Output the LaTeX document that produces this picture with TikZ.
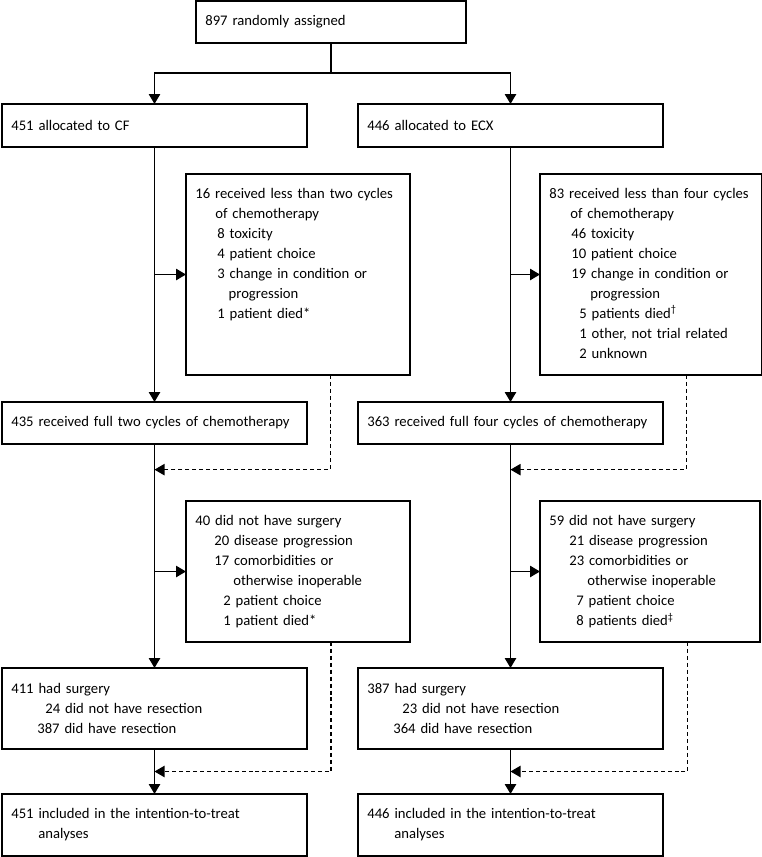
\documentclass[tikz,border=0pt]{standalone}
\usepackage{fontspec}
\setmainfont{Carlito}
\usepackage{tikz}
\usetikzlibrary{arrows.meta,positioning,calc}
\newcommand\Textbox[2]{%
  \parbox[c][#1][t]{\linewidth}{\strut #2}}
\tikzset{
  arr/.style={-{Triangle[length=7.5pt,width=8.5pt]}, line width=1.25pt},
  dasharr/.style={-{Triangle[length=7.5pt,width=8.5pt]}, line width=0.8pt,
    dash pattern=on 3pt off 2.2pt}
}

\begin{document}
\begin{tikzpicture}[x=0.75pt,y=-0.75pt,
    box/.style={draw, rectangle, line width=1.25pt, anchor=north west,
      outer sep=0pt, inner xsep=7pt, inner ysep=0pt, align=left,
      font=\fontsize{11pt}{15pt}\selectfont},
    mainbox/.style={box, text width=214.75pt, minimum height=#1},
    sidebox/.style 2 args={box, text width=#1, minimum height=#2},
    toptext/.style={inner ysep=7.5pt}
  ]
  \useasboundingbox (0,0) rectangle (762,857);

  % Randomisation
  \node[box, text width=188.5pt, minimum height=31.5pt] (rand) at (196,1)
    {897 randomly assigned};

  \node[mainbox=32.25pt] (cf) at (2,104) {451 allocated to CF};
  \node[mainbox=32.25pt] (ecx) at (358,104) {446 allocated to ECX};

  % Chemotherapy
  \node[sidebox={154pt}{150.75pt}, toptext] (cflow) at (186,174) {\Textbox{135.75pt}{%
    \mbox{16 received less than two cycles}\\
    \hspace*{15pt}of chemotherapy\\
    \hspace*{16.5pt}8 toxicity\\
    \hspace*{16.5pt}4 patient choice\\
    \hspace*{16.5pt}3 change in condition or\\
    \hspace*{25pt}progression\\
    \hspace*{16.5pt}1 patient died*}};
  \node[sidebox={152.5pt}{150.75pt}, toptext] (ecxlow) at (540,174) {\Textbox{135.75pt}{%
    \mbox{83 received less than four cycles}\\
    \hspace*{15.75pt}of chemotherapy\\
    \hspace*{16.5pt}46 toxicity\\
    \hspace*{16.5pt}10 patient choice\\
    \hspace*{16.5pt}19 change in condition or\\
    \hspace*{30.75pt}progression\\
    \hspace*{22.5pt}5 patients died\textsuperscript{†}\\
    \hspace*{22.5pt}1 other, not trial related\\
    \hspace*{22.5pt}2 unknown}};

  \node[mainbox=31.5pt] (cffull) at (2,402) {\mbox{435 received full two cycles of chemotherapy}};
  \node[mainbox=31.5pt] (ecxfull) at (358,402) {\mbox{363 received full four cycles of chemotherapy}};

  % Surgery
  \node[sidebox={154pt}{105.75pt}] (cfnosurg) at (186,501) {%
    40 did not have surgery\\
    \hspace*{14.25pt}20 disease progression\\
    \hspace*{14.25pt}17 comorbidities or\\
    \hspace*{28.5pt}otherwise inoperable\\
    \hspace*{21pt}2 patient choice\\
    \hspace*{21pt}1 patient died*};
  \node[sidebox={151pt}{105.75pt}] (ecxnosurg) at (540,501) {%
    59 did not have surgery\\
    \hspace*{15pt}21 disease progression\\
    \hspace*{15pt}23 comorbidities or\\
    \hspace*{28.5pt}otherwise inoperable\\
    \hspace*{20.25pt}7 patient choice\\
    \hspace*{20.25pt}8 patients died\textsuperscript{‡}};

  \node[mainbox=60.75pt] (cfsurg) at (2,668) {%
    411 had surgery\\
    \hspace*{25.5pt}24 did not have resection\\
    \hspace*{19.5pt}387 did have resection};
  \node[mainbox=60.75pt] (ecxsurg) at (358,668) {%
    387 had surgery\\
    \hspace*{26.25pt}23 did not have resection\\
    \hspace*{19.5pt}364 did have resection};

  % Analyses
  \node[mainbox=46.5pt] (cfitt) at (2,794) {%
    451 included in the intention-to-treat\\
    \hspace*{20.25pt}analyses};
  \node[mainbox=46.5pt] (ecxitt) at (358,794) {%
    446 included in the intention-to-treat\\
    \hspace*{20.25pt}analyses};

  % Connectors
  \coordinate (split) at (331,73);
  \draw[arr] (rand.south) -- (rand.south |- split) -| (cf.north);
  \draw[arr] (rand.south |- split) -| (ecx.north);

  \draw[arr] (cf.south) -- (cffull.north);
  \draw[arr] (cf.south |- cflow.west) -- (cflow.west);
  \draw[arr] (ecx.south) -- (ecxfull.north);
  \draw[arr] (ecx.south |- ecxlow.west) -- (ecxlow.west);
  \draw[dasharr] ($(cf.east |- cflow.south)+(17.5pt,0)$)
    |- ($(cffull.south)!.45!(cffull.south |- cfnosurg.north)$);
  \draw[dasharr] ($(ecx.east |- ecxlow.south)+(17.5pt,0)$)
    |- ($(ecxfull.south)!.45!(ecxfull.south |- ecxnosurg.north)$);

  \draw[arr] (cffull.south) -- (cfsurg.north);
  \draw[arr] (cffull.south |- cfnosurg.west) -- (cfnosurg.west);
  \draw[arr] (ecxfull.south) -- (ecxsurg.north);
  \draw[arr] (ecxfull.south |- ecxnosurg.west) -- (ecxnosurg.west);
  \draw[dasharr] ($(cf.east |- cfnosurg.south)+(18pt,0)$)
    |- ($(cfsurg.south)!.5!(cfitt.north)$);
  \draw[dasharr] ($(ecx.east |- ecxnosurg.south)+(18.5pt,0)$)
    |- ($(ecxsurg.south)!.5!(ecxitt.north)$);

  \draw[arr] (cfsurg.south) -- (cfitt.north);
  \draw[arr] (ecxsurg.south) -- (ecxitt.north);
\end{tikzpicture}
\end{document}
